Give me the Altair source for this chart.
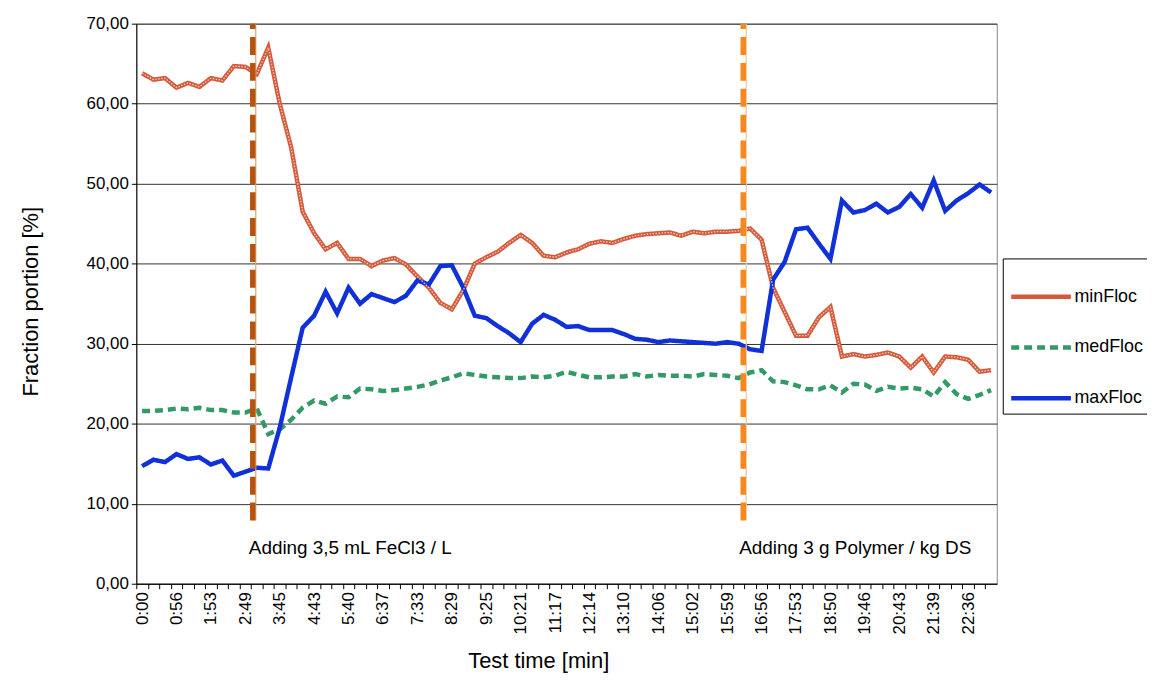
import altair as alt
import pandas as pd

# ---------------- data ----------------
time_labels = ["0:00", "0:56", "1:53", "2:49", "3:45", "4:43", "5:40", "6:37", "7:33",
               "8:29", "9:25", "10:21", "11:17", "12:14", "13:10", "14:06", "15:02",
               "15:59", "16:56", "17:53", "18:50", "19:46", "20:43", "21:39", "22:36"]
label_step = 3  # one label every third sample

min_floc = [63.8, 63.0, 63.2, 62.0, 62.6, 62.1, 63.2, 62.9, 64.7, 64.6,
            63.7, 67.0, 60.0, 54.5, 46.5, 43.8, 41.8, 42.6, 40.6, 40.6,
            39.7, 40.4, 40.7, 39.9, 38.4, 37.0, 35.1, 34.3, 36.7, 40.0,
            40.8, 41.5, 42.6, 43.6, 42.6, 41.0, 40.8, 41.4, 41.8, 42.5,
            42.8, 42.6, 43.1, 43.5, 43.7, 43.8, 43.9, 43.5, 44.0, 43.8,
            44.0, 44.0, 44.1, 44.4, 43.0, 37.0, 34.0, 31.0, 31.0, 33.3,
            34.6, 28.4, 28.7, 28.4, 28.6, 28.9, 28.4, 27.0, 28.4, 26.4,
            28.4, 28.3, 28.0, 26.5, 26.7]
med_floc = [21.6, 21.6, 21.7, 21.9, 21.8, 22.0, 21.7, 21.7, 21.4, 21.4,
            21.9, 18.7, 19.3, 20.5, 22.0, 22.9, 22.5, 23.4, 23.3, 24.4,
            24.3, 24.1, 24.2, 24.4, 24.6, 24.9, 25.4, 25.8, 26.3, 26.1,
            25.9, 25.8, 25.7, 25.7, 25.9, 25.8, 26.0, 26.5, 26.1, 25.8,
            25.8, 25.9, 25.9, 26.2, 25.9, 26.1, 26.0, 26.0, 25.9, 26.2,
            26.1, 26.0, 25.7, 26.4, 26.7, 25.3, 25.2, 24.8, 24.3, 24.3,
            24.8, 23.9, 25.0, 24.9, 24.1, 24.6, 24.4, 24.5, 24.3, 23.4,
            25.2, 23.7, 23.1, 23.6, 24.2]
max_floc = [14.7, 15.5, 15.2, 16.2, 15.6, 15.8, 14.9, 15.4, 13.5, 14.0,
            14.5, 14.4, 19.5, 25.8, 32.0, 33.5, 36.5, 33.8, 37.0, 35.0,
            36.2, 35.7, 35.2, 36.0, 37.9, 37.4, 39.7, 39.8, 37.0, 33.5,
            33.2, 32.2, 31.3, 30.2, 32.5, 33.6, 33.0, 32.1, 32.2, 31.7,
            31.7, 31.7, 31.2, 30.6, 30.5, 30.2, 30.4, 30.3, 30.2, 30.1,
            30.0, 30.2, 30.0, 29.3, 29.1, 38.0, 40.2, 44.3, 44.5, 42.5,
            40.6, 47.9, 46.4, 46.7, 47.5, 46.4, 47.1, 48.7, 47.0, 50.4,
            46.6, 47.9, 48.8, 49.9, 48.9]

series_names = ["minFloc", "medFloc", "maxFloc"]
series_colors = ["#d45a3c", "#339966", "#1030d8"]
series_dash = [[1, 0], [8, 5], [1, 0]]
series_width = [4.5, 4.5, 5.0]

event_pos = [9.65, 52.4]
event_label = ["Adding 3,5 mL FeCl3 / L", "Adding 3 g Polymer / kg DS"]
event_color = ["#b5540f", "#f5891f"]
event_edge_color = ["#d9a878", "#f7c48e"]
event_bottom = 7.9
event_top = 70.0
event_label_y = 4.4

y_ticks = [0, 10, 20, 30, 40, 50, 60, 70]

# ---------------- tables ----------------
rows = []
for name, vals in zip(series_names, [min_floc, med_floc, max_floc]):
    for i, v in enumerate(vals):
        rows.append({"i": i, "value": v, "series": name})
df = pd.DataFrame(rows)
n = len(max_floc)

ev = pd.DataFrame({"i": event_pos, "label": event_label, "color": event_color,
                   "edge": event_edge_color, "value": event_bottom, "y1": event_top,
                   "ty": event_label_y})

# ---------------- layout ----------------
W, H = 865, 563
band = W / n
arr = "[" + ",".join("'%s'" % t for t in time_labels) + "]"
x_label_expr = "datum.value %% %d === 0 ? %s[datum.value / %d] : ''" % (label_step, arr, label_step)

x_scale = alt.Scale(domain=[-0.5, n - 0.5], nice=False, zero=False)
y_scale = alt.Scale(domain=[0, 70], nice=False)

x_axis = alt.Axis(values=list(range(n)), labelExpr=x_label_expr, labelAngle=270,
                  labelAlign="right", labelBaseline="middle", labelFontSize=17,
                  labelColor="black", labelOverlap=False, labelFlush=False,
                  tickOffset=-band / 2, labelOffset=band / 2, tickSize=5,
                  tickColor="black", domainColor="black", grid=False, labelPadding=3,
                  title="Test time [min]", titleFontSize=22, titleFontWeight="normal",
                  titleColor="black", titleX=404, titleY=84, titleBaseline="alphabetic",
                  titleAlign="center")
y_axis = alt.Axis(values=y_ticks, labelExpr="replace(format(datum.value, '.2f'), '.', ',')",
                  grid=True, gridColor="#333333", gridWidth=1, domainColor="black",
                  tickColor="black", tickSize=5, labelFontSize=17, labelColor="black",
                  labelPadding=3, title="Fraction portion [%]", titleFontSize=22,
                  titleFontWeight="normal", titleColor="black", titleX=-106, titleY=279,
                  titleAngle=270, titleBaseline="middle", titleAlign="center")

X = alt.X("i:Q", scale=x_scale, axis=x_axis)
Y = alt.Y("value:Q", scale=y_scale, axis=y_axis)

legend = alt.Legend(orient="none", legendX=871, legendY=236, title=None,
                    strokeColor="black", padding=6, symbolType="stroke",
                    symbolSize=3600, symbolStrokeWidth=4, labelFontSize=18,
                    labelColor="black", rowPadding=9, labelOffset=1)

base = alt.Chart(df)
lines = base.mark_line().encode(
    x=X,
    y=Y,
    color=alt.Color("series:N", scale=alt.Scale(domain=series_names, range=series_colors),
                    legend=legend, sort=series_names),
    strokeDash=alt.StrokeDash("series:N", scale=alt.Scale(domain=series_names, range=series_dash),
                              legend=legend, sort=series_names),
    strokeWidth=alt.StrokeWidth("series:N", scale=alt.Scale(domain=series_names, range=series_width),
                                legend=None),
    order="i:Q",
)

texture = base.transform_filter(alt.datum.series == "minFloc").mark_line(
    color="#f8cdbd", strokeWidth=1.3, strokeDash=[1.5, 1.5]
).encode(x=X, y=Y, order="i:Q")

evbase = alt.Chart(ev)
ev_rules = evbase.mark_rule(strokeWidth=5.5, strokeDash=[18, 8]).encode(
    x=X, y=Y, y2="y1:Q",
    color=alt.Color("color:N", scale=None, legend=None),
)
ev_edges = evbase.mark_rule(strokeWidth=1.2, xOffset=3).encode(
    x=X, y=Y, y2="y1:Q",
    color=alt.Color("edge:N", scale=None, legend=None),
)
ev_text = evbase.mark_text(align="left", baseline="middle", dx=-4, fontSize=19,
                           color="black").encode(
    x=X,
    y=alt.Y("ty:Q", scale=y_scale, axis=y_axis),
    text="label:N",
)

chart = alt.layer(lines, texture, ev_edges, ev_rules, ev_text).properties(
    width=W, height=H,
    autosize=alt.AutoSizeParams(type="none"),
    padding={"left": 129, "top": 14, "right": 151, "bottom": 90},
).configure(font="Liberation Sans").configure_view(stroke="#888888", strokeWidth=1)

chart.save("out.html", embed_options={"renderer": "svg", "actions": False})
